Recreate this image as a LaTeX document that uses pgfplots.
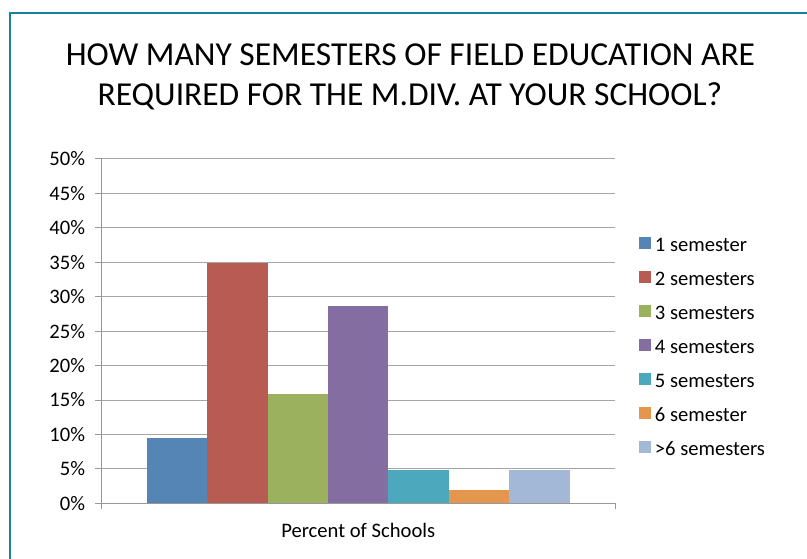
\documentclass[border=0pt]{standalone}
\usepackage{fontspec}
\setmainfont{Carlito}
\usepackage{pgfplots}
\pgfplotsset{compat=1.18}
\definecolor{cA}{HTML}{5585B5}
\definecolor{cB}{HTML}{B85B53}
\definecolor{cC}{HTML}{9BB15E}
\definecolor{cD}{HTML}{846DA0}
\definecolor{cE}{HTML}{4CA8BC}
\definecolor{cF}{HTML}{E4954E}
\definecolor{cG}{HTML}{A3B7D7}
\definecolor{frame}{HTML}{17819F}
\definecolor{gridgray}{HTML}{A6A6A6}
\definecolor{axgray}{HTML}{989898}
\begin{document}
\begin{tikzpicture}
\useasboundingbox (0bp,0bp) rectangle (807bp,559bp);
\fill[white] (0bp,0bp) rectangle (807bp,559bp);
\draw[line width=2bp, color=frame] (9.5bp,0bp) -- (9.5bp,546bp) -- (807bp,546bp);
\node[anchor=base, font=\fontsize{33.5bp}{40bp}\selectfont, inner sep=0pt] at (410.5bp,493.3bp) {HOW MANY SEMESTERS OF FIELD EDUCATION ARE};
\node[anchor=base, font=\fontsize{33.5bp}{40bp}\selectfont, inner sep=0pt] at (410bp,453.3bp) {REQUIRED FOR THE M.DIV. AT YOUR SCHOOL?};
\begin{axis}[
  at={(101.5bp,55.7bp)}, anchor=south west,
  scale only axis, width=513.5bp, height=344.3bp,
  ybar=0pt, bar width=60.4bp,
  xmin=-1, xmax=1, ymin=0, ymax=50,
  axis x line*=bottom, axis y line*=left,
  axis line style={draw=axgray, line width=1bp, -},
  ytick={0,5,...,50},
  yticklabels={0\%,5\%,10\%,15\%,20\%,25\%,30\%,35\%,40\%,45\%,50\%},
  ymajorgrids, major grid style={draw=gridgray, line width=1bp},
  tick align=outside, major tick length=6bp,
  ytick style={draw=axgray, line width=1bp},
  xtick={0}, xticklabels={Percent of Schools},
  xtick style={draw=none},
  extra x ticks={-1,1}, extra x tick labels={},
  extra x tick style={xtick style={draw=axgray, line width=1bp}, grid=none},
  ticklabel style={font=\fontsize{20.6bp}{24bp}\selectfont},
  yticklabel style={xshift=-7bp},
  xticklabel style={yshift=-10bp},
  legend style={draw=none, fill=none, at={(1.0467,0.456)}, anchor=west,
    font=\fontsize{20.6bp}{24bp}\selectfont, inner sep=0pt, outer sep=0pt,
    row sep=19.5bp,
    nodes={inner sep=0pt, text height=14.5bp, text depth=0pt},
    cells={anchor=base west},
    /tikz/every odd column/.append style={column sep=4bp}},
  legend image code/.code={\fill[#1] (0bp,2.5bp) rectangle (12bp,14.5bp);},
]
\addplot[fill=cA, draw=none] coordinates {(0,9.5)};
\addplot[fill=cB, draw=none] coordinates {(0,34.9)};
\addplot[fill=cC, draw=none] coordinates {(0,15.9)};
\addplot[fill=cD, draw=none] coordinates {(0,28.6)};
\addplot[fill=cE, draw=none] coordinates {(0,4.8)};
\addplot[fill=cF, draw=none] coordinates {(0,1.9)};
\addplot[fill=cG, draw=none] coordinates {(0,4.8)};
\legend{1 semester,2 semesters,3 semesters,4 semesters,5 semesters,6 semester,>6 semesters}
\end{axis}
\end{tikzpicture}
\end{document}
